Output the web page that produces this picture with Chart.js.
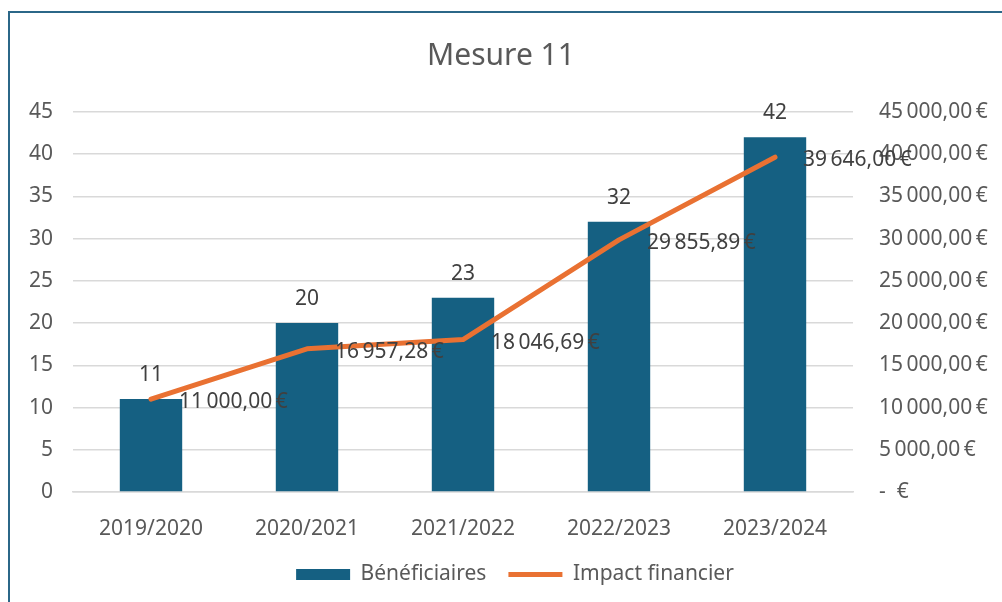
<!DOCTYPE html>
<html lang="fr">
<head>
<meta charset="utf-8">
<title>Mesure 11</title>
<script src="https://cdn.jsdelivr.net/npm/chart.js@4.4.1/dist/chart.umd.min.js"></script>
<style>
  html, body { margin: 0; padding: 0; background: #fff; overflow: hidden; }
  #wrap { position: relative; width: 1002px; height: 602px; }
  #frame {
    position: absolute; left: 8px; top: 11px; width: 1100px; height: 700px;
    border-top: 2px solid #2b6788; border-left: 2px solid #2b6788;
    pointer-events: none;
  }
</style>
</head>
<body>
<div id="wrap">
  <canvas id="chart" width="1002" height="602"></canvas>
  <div id="frame"></div>
</div>
<script>
const seasons = ["2019/2020", "2020/2021", "2021/2022", "2022/2023", "2023/2024"];
const beneficiaires = [11, 20, 23, 32, 42];
const impactFinancier = [11000, 16957.28, 18046.69, 29855.89, 39646.0];
const countAxis = { max: 45, step: 5 };
const euroAxis = { max: 45000, step: 5000 };

const FONT = "'Noto Sans', sans-serif";
const AXIS_GREY = "#595959";
const LABEL_GREY = "#404040";

function euro(v) {
  if (v === 0) return "-  €";
  const [int, dec] = v.toFixed(2).split(".");
  return int.replace(/\B(?=(\d{3})+(?!\d))/g, "\u202f") + "," + dec + "\u202f€";
}

// value labels: above bars, right of line points
const valueLabels = {
  id: "valueLabels",
  afterDatasetsDraw(chart) {
    const { ctx } = chart;
    ctx.save();
    ctx.font = `21px ${FONT}`;
    ctx.fillStyle = LABEL_GREY;
    ctx.textBaseline = "middle";
    chart.getDatasetMeta(0).data.forEach((bar, i) => {
      ctx.textAlign = "center";
      ctx.fillText(String(beneficiaires[i]), bar.x, bar.y - 24);
    });
    chart.getDatasetMeta(1).data.forEach((pt, i) => {
      ctx.textAlign = "left";
      ctx.fillText(euro(impactFinancier[i]), pt.x + 28, pt.y + 3);
    });
    ctx.restore();
  }
};

// Excel centres the legend a bit right of the canvas middle
const legendNudge = {
  id: "legendNudge",
  afterLayout(chart) {
    if (chart.legend) {
      chart.legend.left += 14;
      chart.legend.right += 14;
    }
  }
};

new Chart(document.getElementById("chart"), {
  data: {
    labels: seasons,
    datasets: [
      {
        type: "bar",
        label: "Bénéficiaires",
        data: beneficiaires,
        backgroundColor: "#156082",
        borderWidth: 0,
        barPercentage: 0.4,
        categoryPercentage: 1,
        pointStyle: "rect",
        yAxisID: "y",
        order: 2
      },
      {
        type: "line",
        label: "Impact financier",
        data: impactFinancier,
        borderColor: "#e97132",
        backgroundColor: "#e97132",
        borderWidth: 5,
        borderCapStyle: "round",
        borderJoinStyle: "round",
        pointRadius: 0,
        pointStyle: "line",
        tension: 0,
        yAxisID: "y1",
        order: 1
      }
    ]
  },
  options: {
    responsive: false,
    devicePixelRatio: 1,
    animation: false,
    layout: { padding: { left: 0, right: 0, top: 0, bottom: 7 } },
    plugins: {
      title: {
        display: true,
        text: "Mesure 11",
        color: AXIS_GREY,
        font: { family: FONT, size: 30, weight: "normal" },
        padding: { top: 38, bottom: 38 }
      },
      legend: {
        position: "bottom",
        labels: {
          color: AXIS_GREY,
          font: { family: FONT, size: 21 },
          usePointStyle: true,
          pointStyleWidth: 54,
          boxHeight: 11,
          padding: 22,
          sort: (a, b) => a.datasetIndex - b.datasetIndex
        }
      },
      tooltip: { enabled: false }
    },
    scales: {
      x: {
        grid: { display: false },
        border: { color: "#d9d9d9", width: 1.5 },
        ticks: { color: AXIS_GREY, font: { family: FONT, size: 21 }, padding: 16, maxRotation: 0 },
        afterFit: (s) => { s.height = 50; }
      },
      y: {
        position: "left",
        min: 0,
        max: countAxis.max,
        ticks: { stepSize: countAxis.step, color: AXIS_GREY, font: { family: FONT, size: 21 }, padding: 20 },
        grid: { color: "#d9d9d9", lineWidth: 1.5, drawTicks: false },
        border: { display: false },
        afterFit: (s) => { s.width = 73; }
      },
      y1: {
        position: "right",
        min: 0,
        max: euroAxis.max,
        ticks: {
          stepSize: euroAxis.step,
          color: AXIS_GREY,
          font: { family: FONT, size: 21 },
          padding: 26,
          callback: (v) => euro(v)
        },
        grid: { display: false, drawTicks: false },
        border: { display: false },
        afterFit: (s) => { s.width = 149; }
      }
    }
  },
  plugins: [valueLabels, legendNudge]
});
</script>
</body>
</html>
